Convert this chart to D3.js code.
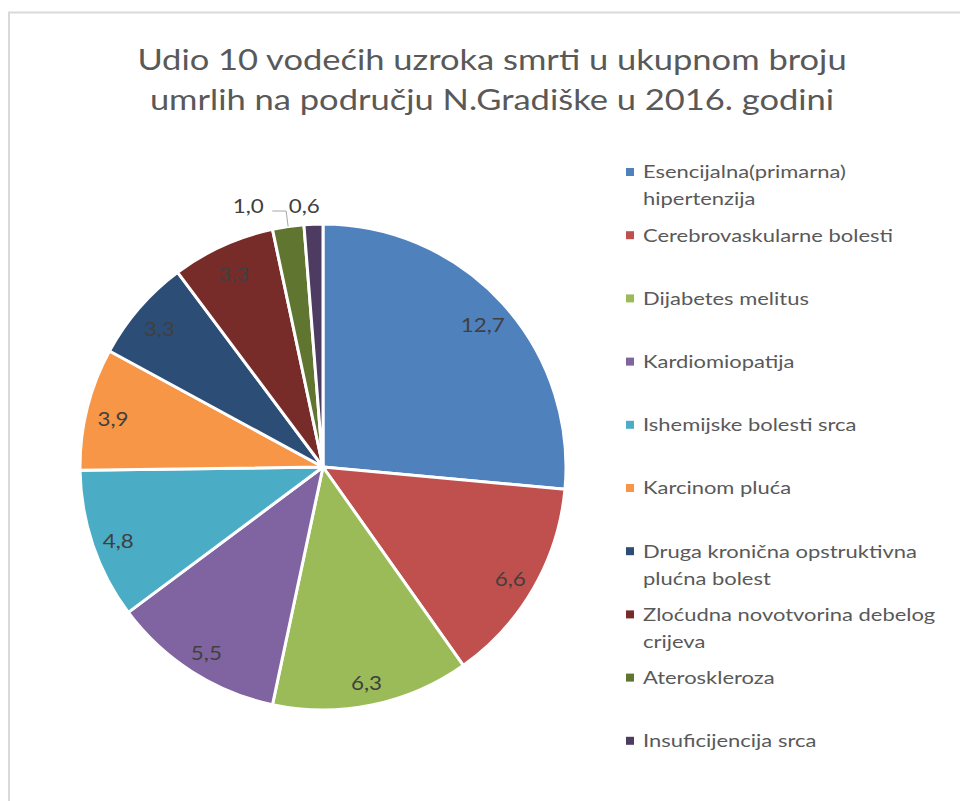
<!DOCTYPE html>
<html><head><meta charset="utf-8">
<script src="https://cdn.jsdelivr.net/npm/d3@7"></script>
<style>body{margin:0;background:#fff;}svg{display:block;}</style>
</head><body>
<svg id="c" width="960" height="801"></svg>
<script>
const titleLines = ["Udio 10 vodećih uzroka smrti u ukupnom broju", "umrlih na području N.Gradiške u 2016. godini"];
const categories = ["Esencijalna(primarna) hipertenzija", "Cerebrovaskularne bolesti", "Dijabetes melitus", "Kardiomiopatija", "Ishemijske bolesti srca", "Karcinom pluća", "Druga kronična opstruktivna plućna bolest", "Zloćudna novotvorina debelog crijeva", "Ateroskleroza", "Insuficijencija srca"];
const legendLines = [["Esencijalna(primarna)", "hipertenzija"], ["Cerebrovaskularne bolesti"], ["Dijabetes melitus"], ["Kardiomiopatija"], ["Ishemijske bolesti srca"], ["Karcinom pluća"], ["Druga kronična opstruktivna", "plućna bolest"], ["Zloćudna novotvorina debelog", "crijeva"], ["Ateroskleroza"], ["Insuficijencija srca"]];
const values = [12.7, 6.6, 6.3, 5.5, 4.8, 3.9, 3.3, 3.3, 1.0, 0.6];
const colors = ["#4F81BD", "#C0504D", "#9BBB59", "#8064A2", "#4BACC6", "#F79646", "#2C4D75", "#772C2A", "#5F7530", "#4D3B62"];

const svg = d3.select("#c");
const font = "Lato, 'Open Sans', sans-serif";
// chart border
svg.append("rect").attr("x", 9).attr("y", 12.5).attr("width", 1000).attr("height", 900)
  .attr("fill", "none").attr("stroke", "#d9d9d9").attr("stroke-width", 2);

// title (horizontally stretched to match the wide rendering of the original)
svg.append("g").selectAll("text").data(titleLines).join("text")
  .attr("transform", (d, i) => `translate(492,${70 + i * 40}) scale(1.19,1)`)
  .attr("text-anchor", "middle").attr("font-family", font).attr("font-size", 29)
  .attr("fill", "#595959").text(d => d);

const cx = 323, cy = 467, r = 243;
const color = d3.scaleOrdinal().domain(categories).range(colors);
const pie = d3.pie().sort(null).value(d => d.v);
const data = categories.map((c, i) => ({c, v: values[i]}));
const arcs = pie(data);
const arc = d3.arc().innerRadius(0).outerRadius(r);
const g = svg.append("g").attr("transform", `translate(${cx},${cy})`);
g.selectAll("path").data(arcs).join("path")
  .attr("d", arc).attr("fill", d => color(d.data.c))
  .attr("stroke", "#fff").attr("stroke-width", 3).attr("stroke-linejoin", "round");

const fmt = v => d3.format(".1f")(v).replace(".", ",");
const labelArc = d3.arc().innerRadius(r * 0.89).outerRadius(r * 0.89);
const inside = arcs.filter(d => d.data.v >= 2);
g.selectAll("text.in").data(inside).join("text").attr("class", "in")
  .attr("transform", d => { const c = labelArc.centroid(d); return `translate(${c[0]},${c[1] + 4}) scale(1.12,1)`; })
  .attr("dy", "0.35em").attr("text-anchor", "middle")
  .attr("font-family", font).attr("font-size", 20).attr("fill", "#404040")
  .text(d => fmt(d.data.v));

// outside labels (small slices), placed above the pie, pushed left to avoid overlap
const outside = arcs.filter(d => d.data.v < 2).map(d => {
  const a = (d.startAngle + d.endAngle) / 2;
  return {d, a, ex: Math.sin(a) * r, ey: -Math.cos(a) * r, x: Math.sin(a) * (r + 30) - 8, y: -r - 18};
});
for (let i = outside.length - 2; i >= 0; i--) {
  outside[i].x = Math.min(outside[i].x, outside[i + 1].x - 56);
}
outside.forEach(o => {
  g.append("text").attr("transform", `translate(${o.x},${o.y}) scale(1.12,1)`).attr("dy", "0.35em").attr("text-anchor", "middle")
    .attr("font-family", font).attr("font-size", 20).attr("fill", "#404040").text(fmt(o.d.data.v));
  if (Math.abs(o.x - o.ex) > 25) {
    g.append("polyline")
      .attr("points", `${o.x + 24},${o.y + 5} ${o.ex - 2},${o.y + 5} ${o.ex},${o.ey}`)
      .attr("fill", "none").attr("stroke", "#a6a6a6").attr("stroke-width", 1);
  }
});

// legend
const lg = svg.append("g").attr("transform", "translate(626,172)");
const item = lg.selectAll("g").data(categories).join("g")
  .attr("transform", (d, i) => `translate(0,${i * 63.2})`);
item.append("rect").attr("x", 0).attr("y", -4).attr("width", 8).attr("height", 8).attr("fill", d => color(d));
item.each(function(d, i) {
  d3.select(this).selectAll("text").data(legendLines[i]).join("text")
    .attr("transform", (t, j) => `translate(17,${j * 27}) scale(1.22,1)`).attr("dy", "0.35em")
    .attr("font-family", font).attr("font-size", 18).attr("fill", "#595959").text(t => t);
});
</script>
</body></html>
